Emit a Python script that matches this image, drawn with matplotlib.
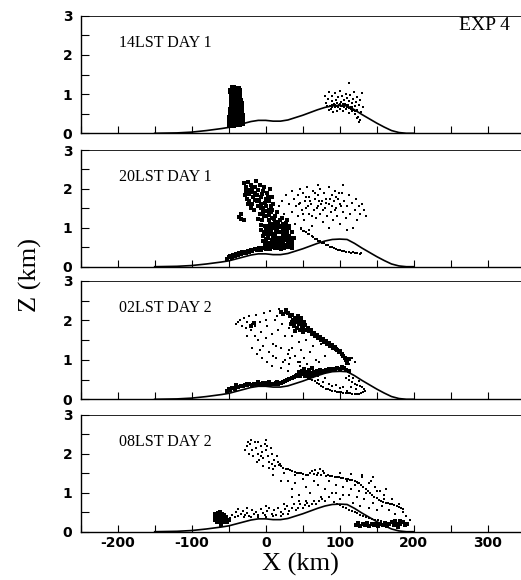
import matplotlib
matplotlib.use("Agg")
import matplotlib.pyplot as plt
from matplotlib.ticker import MultipleLocator

# ---------------- data ----------------
terrain_x = [-150, -120, -100, -80, -60, -50, -40, -30, -20, -10, 0, 10, 20, 30, 40, 50,
             60, 70, 80, 90, 100, 110, 120, 130, 140, 150, 160, 170, 180, 190, 200]
terrain_z = [0.0, 0.01, 0.03, 0.07, 0.12, 0.15, 0.20, 0.25, 0.30, 0.33, 0.33, 0.31, 0.31,
             0.34, 0.40, 0.46, 0.53, 0.60, 0.66, 0.70, 0.71, 0.70, 0.60, 0.48, 0.37, 0.26,
             0.16, 0.07, 0.02, 0.0, 0.0]

panel_titles = ["14LST DAY 1", "20LST DAY 1", "02LST DAY 2", "08LST DAY 2"]
exp_label = "EXP 4"
x_ticklabels = ["-200", "-100", "0", "100", "200", "300"]
x_tickvalues = [-200, -100, 0, 100, 200, 300]

# Panel 1 (14LST day 1)
p1_column = [(-48, 0.20), (-44, 0.21), (-40, 0.23), (-36, 0.25), (-32, 0.27),
             (-48, 0.30), (-44, 0.31), (-40, 0.32), (-36, 0.34), (-32, 0.36),
             (-48, 0.40), (-44, 0.41), (-40, 0.42), (-36, 0.43), (-32, 0.45),
             (-47, 0.50), (-44, 0.51), (-40, 0.52), (-36, 0.52), (-33, 0.55),
             (-47, 0.60), (-44, 0.61), (-40, 0.61), (-36, 0.62), (-33, 0.64),
             (-46, 0.70), (-43, 0.71), (-40, 0.72), (-36, 0.73), (-34, 0.74),
             (-46, 0.80), (-43, 0.81), (-39, 0.82), (-35, 0.83),
             (-45, 0.90), (-42, 0.91), (-39, 0.92), (-36, 0.93),
             (-46, 1.00), (-43, 1.01), (-39, 1.02), (-36, 1.00),
             (-47, 1.09), (-42, 1.11), (-38, 1.13), (-36, 1.07), (-44, 1.16)]
p1_light = [(80, 0.95), (82, 0.78), (84, 0.88), (86, 1.05), (87, 0.70), (88, 0.62), (89, 0.82),
            (90, 0.95), (91, 0.55), (92, 0.74), (93, 1.02), (94, 0.66), (95, 0.85), (96, 0.58),
            (97, 0.78), (98, 0.92), (99, 0.71), (100, 1.08), (101, 0.63), (102, 0.80), (103, 0.94),
            (104, 0.69), (105, 0.56), (106, 0.86), (107, 0.74), (108, 1.00), (109, 0.62), (110, 0.90),
            (111, 0.72), (112, 0.52), (113, 0.83), (114, 0.97), (115, 0.66), (116, 0.78), (117, 0.58),
            (118, 0.88), (119, 1.05), (120, 0.70), (121, 0.48), (122, 0.80), (123, 0.60), (124, 0.92),
            (125, 0.42), (126, 0.72), (127, 0.35), (128, 0.86), (129, 0.55), (130, 1.02), (131, 0.66),
            (126, 0.30), (124, 0.38), (112, 1.28), (86, 0.60), (94, 0.72), (100, 0.74), (106, 0.68),
            (112, 0.64), (118, 0.60), (98, 0.66), (104, 0.76), (90, 0.72), (108, 0.72), (115, 0.62),
            (121, 0.58), (96, 0.70), (102, 0.70), (83, 0.70), (89, 0.68), (110, 0.66), (117, 0.68)]

# Panel 2 (20LST day 1)
p2_dark = [(-30, 2.15), (-27, 2.05), (-24, 2.18), (-22, 1.98), (-20, 2.10), (-18, 1.92), (-15, 2.05),
           (-13, 2.20), (-12, 1.85), (-10, 1.98), (-8, 2.10), (-6, 1.80), (-4, 1.95), (-2, 2.05),
           (0, 1.75), (2, 1.90), (4, 1.70), (6, 2.00), (8, 1.80), (10, 1.62), (-28, 1.85), (-25, 1.75),
           (-22, 1.68), (-18, 1.60), (-15, 1.72), (-11, 1.55), (-7, 1.62), (-3, 1.50), (1, 1.55),
           (5, 1.45), (-16, 1.45), (-20, 1.52), (-36, 1.28), (-34, 1.22), (-33, 1.35), (-30, 1.20),
           (-8, 1.35), (-5, 1.20), (-3, 1.40), (-1, 1.05), (1, 1.30), (3, 0.95), (5, 1.20), (7, 1.40),
           (9, 1.10), (11, 0.85), (13, 1.30), (15, 1.00), (17, 0.75), (19, 1.20), (21, 0.90), (23, 1.10),
           (25, 0.70), (27, 0.95), (29, 1.20), (31, 0.80), (33, 0.60), (35, 0.90), (-6, 0.95), (-4, 0.80),
           (0, 0.70), (2, 0.60), (6, 0.85), (8, 0.68), (10, 1.00), (12, 0.60), (14, 0.55), (16, 1.10),
           (18, 0.65), (20, 0.50), (22, 1.25), (24, 0.58), (26, 1.05), (28, 0.52), (30, 0.65), (32, 1.00),
           (36, 0.55), (38, 0.75), (0, 1.00), (4, 1.05), (8, 1.25), (12, 1.15), (16, 0.88), (20, 0.72),
           (24, 0.85), (28, 0.78), (-2, 0.88), (10, 0.78), (14, 0.95), (18, 1.02), (6, 0.62), (22, 0.62),
           (-26, 1.95), (-23, 1.88), (-19, 2.02), (-17, 1.78), (-14, 1.90), (-9, 1.72), (-5, 1.88),
           (-1, 1.65), (3, 1.80), (7, 1.55), (-12, 1.68), (-24, 1.62), (-6, 1.50), (2, 1.42),
           (-2, 1.30), (4, 1.32), (6, 1.10), (9, 1.45), (11, 1.22), (13, 1.05), (15, 1.40), (17, 1.15),
           (19, 0.90), (21, 1.05), (23, 0.80), (25, 0.95), (27, 0.68), (29, 0.90), (31, 1.05),
           (33, 0.75), (35, 0.65), (3, 0.75), (-3, 0.65), (1, 0.85), (7, 0.95), (11, 0.68),
           (15, 0.70), (19, 0.58), (23, 0.95), (27, 1.12), (-7, 1.08), (-10, 1.22), (13, 0.80),
           (17, 0.55), (21, 0.75), (25, 0.55), (30, 0.56), (9, 0.58), (5, 0.52), (-1, 0.55),
           (-52, 0.20), (-50, 0.24), (-48, 0.27), (-46, 0.23), (-44, 0.30), (-42, 0.27), (-40, 0.33),
           (-38, 0.30), (-36, 0.35), (-34, 0.32), (-32, 0.37), (-30, 0.34), (-28, 0.39), (-26, 0.36),
           (-24, 0.41), (-22, 0.38), (-20, 0.43), (-18, 0.40), (-15, 0.45), (-12, 0.42), (-9, 0.47),
           (-6, 0.44), (-3, 0.49), (0, 0.45), (3, 0.48), (6, 0.45), (9, 0.50), (13, 0.47), (17, 0.49),
           (21, 0.45), (25, 0.47), (30, 0.50), (35, 0.48)]
p2_light = [(18, 1.55), (22, 1.70), (25, 1.35), (28, 1.85), (30, 1.20), (32, 1.60), (35, 1.95), (36, 1.40),
            (38, 1.75), (40, 1.10), (41, 1.55), (43, 1.85), (44, 1.30), (46, 2.00), (47, 1.65), (49, 1.45),
            (50, 1.90), (52, 1.20), (53, 1.70), (55, 1.50), (56, 2.05), (58, 1.35), (59, 1.80), (61, 1.60),
            (62, 1.05), (64, 1.95), (65, 1.45), (67, 1.75), (68, 1.25), (70, 1.85), (71, 1.55), (73, 2.00),
            (74, 1.35), (76, 1.70), (77, 1.15), (79, 1.90), (80, 1.50), (82, 1.75), (83, 1.30), (85, 2.05),
            (86, 1.60), (88, 1.40), (89, 1.85), (91, 1.20), (92, 1.70), (94, 1.95), (95, 1.50), (97, 1.30),
            (98, 1.75), (100, 1.60), (101, 1.10), (103, 1.90), (104, 1.40), (106, 1.70), (108, 1.25),
            (110, 1.55), (112, 1.85), (114, 1.35), (116, 1.65), (118, 1.00), (120, 1.45), (122, 1.75),
            (124, 1.20), (126, 1.55), (128, 1.35), (130, 1.60), (133, 1.45), (135, 1.30), (105, 2.10),
            (70, 2.10), (48, 1.00), (58, 0.95), (85, 1.00), (110, 0.95), (90, 1.55), (75, 1.60), (60, 1.70),
            (95, 1.80), (78, 1.45), (66, 1.90), (45, 1.60), (54, 1.80), (63, 1.30), (72, 1.70), (81, 1.65),
            (87, 1.75), (93, 1.45), (99, 1.90), (102, 1.55), (57, 1.55), (69, 1.50), (51, 1.35)]
p2_line = [(48, 0.97), (50, 0.93), (52, 0.91), (55, 0.89), (57, 0.84), (59, 0.83), (62, 0.78), (64, 0.77),
           (66, 0.72), (69, 0.70), (71, 0.67), (74, 0.65), (76, 0.61), (79, 0.60), (82, 0.56), (84, 0.55),
           (87, 0.51), (89, 0.50), (92, 0.47), (95, 0.46), (98, 0.43), (100, 0.44), (103, 0.41),
           (106, 0.41), (109, 0.38), (112, 0.39), (115, 0.36), (118, 0.37), (121, 0.34), (124, 0.35),
           (127, 0.32), (129, 0.34)]

# Panel 3 (02LST day 2)
p3_scatter = [(-40, 1.90), (-37, 1.95), (-35, 2.00), (-32, 1.85), (-30, 2.05), (-27, 1.80), (-25, 1.95),
              (-22, 2.10), (-20, 1.75), (-18, 1.90), (-15, 1.60), (-13, 2.15), (-10, 1.50), (-8, 1.95),
              (-6, 1.70), (-4, 1.35), (-2, 2.20), (0, 1.55), (2, 1.85), (4, 1.20), (6, 2.25), (8, 1.65),
              (10, 1.40), (12, 2.00), (14, 1.05), (16, 1.75), (18, 2.28), (20, 1.30), (22, 1.90),
              (24, 0.95), (26, 1.60), (28, 2.20), (30, 1.15), (32, 1.80), (-18, 1.30), (-12, 1.15),
              (-5, 1.05), (2, 0.95), (8, 0.85), (14, 1.35), (20, 0.80), (26, 1.00), (30, 0.72), (36, 1.30),
              (40, 1.10), (44, 0.95), (48, 1.25), (52, 1.05), (56, 0.90), (60, 1.20), (64, 1.35),
              (68, 1.00), (72, 0.95), (-25, 1.60), (-8, 1.25), (10, 1.10), (-15, 1.85), (0, 2.00),
              (15, 2.10), (35, 1.60), (45, 1.45), (55, 1.50), (75, 1.40), (80, 1.10), (32, 0.90),
              (33, 1.05), (31, 1.25), (47, 0.85), (46, 0.95), (116, 1.05), (120, 0.95), (112, 0.90)]
p3_band = [(20, 2.22), (24, 2.16), (27, 2.26), (30, 2.20), (33, 2.10), (35, 2.15), (37, 2.00), (39, 2.05),
           (41, 1.95), (43, 2.00), (45, 1.90), (47, 1.95), (49, 1.85), (51, 1.80), (53, 1.88), (55, 1.75),
           (57, 1.80), (59, 1.72), (61, 1.75), (63, 1.65), (65, 1.68), (67, 1.60), (69, 1.62), (71, 1.55),
           (73, 1.58), (75, 1.50), (77, 1.52), (79, 1.45), (81, 1.47), (83, 1.40), (85, 1.42), (87, 1.35),
           (89, 1.37), (91, 1.30), (93, 1.32), (95, 1.27), (97, 1.25), (99, 1.20), (101, 1.22),
           (103, 1.15), (105, 1.10), (107, 1.05), (109, 1.00), (38, 1.85), (42, 1.80), (46, 1.75),
           (36, 1.95), (40, 1.72), (44, 2.10), (48, 2.05), (52, 1.95), (-16, 1.94), (-20, 1.85),
           (110, 0.92), (112, 1.02), (34, 1.90), (50, 1.70)]
p3_ground = [(-52, 0.22), (-50, 0.27), (-48, 0.24), (-45, 0.29), (-42, 0.27), (-40, 0.31), (-37, 0.30),
             (-34, 0.34), (-31, 0.33), (-28, 0.36), (-25, 0.35), (-22, 0.38), (-19, 0.37), (-16, 0.39),
             (-13, 0.38), (-10, 0.40), (-7, 0.39), (-4, 0.41), (-1, 0.39), (2, 0.41), (5, 0.39), (8, 0.40),
             (11, 0.38), (14, 0.41), (17, 0.39), (20, 0.42), (23, 0.44), (26, 0.46), (29, 0.49), (32, 0.51),
             (35, 0.54), (38, 0.56), (41, 0.59), (44, 0.61), (47, 0.63), (-40, 0.36), (-25, 0.40),
             (-10, 0.44), (5, 0.45), (15, 0.44),
             (42, 0.62), (45, 0.68), (47, 0.60), (49, 0.72), (51, 0.65), (53, 0.58), (55, 0.70),
             (57, 0.63), (59, 0.74), (61, 0.66), (63, 0.60), (65, 0.70), (67, 0.64), (69, 0.72),
             (71, 0.67), (73, 0.74), (75, 0.68), (77, 0.72), (79, 0.70), (81, 0.75), (83, 0.72),
             (85, 0.76), (88, 0.74), (91, 0.78), (94, 0.76), (97, 0.80), (100, 0.78), (103, 0.82),
             (106, 0.79), (109, 0.75), (112, 0.72), (52, 0.78), (58, 0.55), (62, 0.80)]
p3_loop = [(60, 0.55), (63, 0.50), (66, 0.46), (69, 0.42), (72, 0.38), (75, 0.34), (78, 0.30), (81, 0.27),
           (84, 0.25), (87, 0.23), (90, 0.21), (93, 0.20), (96, 0.19), (99, 0.18), (102, 0.18),
           (105, 0.17), (108, 0.16), (111, 0.15), (114, 0.15), (117, 0.14), (120, 0.14), (123, 0.13),
           (126, 0.14), (129, 0.15), (132, 0.18), (134, 0.22), (133, 0.27), (130, 0.30), (127, 0.33),
           (124, 0.36), (120, 0.40), (116, 0.45), (112, 0.50), (108, 0.54), (70, 0.50), (78, 0.45),
           (85, 0.40), (95, 0.35), (105, 0.30), (115, 0.30), (122, 0.25), (110, 0.22), (100, 0.28),
           (90, 0.33), (118, 0.55), (126, 0.47), (113, 0.60), (70, 0.60), (80, 0.55), (62, 0.62)]

# Panel 4 (08LST day 2)
p4_upper = [(-28, 2.10), (-25, 2.20), (-23, 2.00), (-21, 2.25), (-19, 2.10), (-17, 1.95), (-15, 2.30),
            (-13, 2.15), (-11, 2.00), (-9, 1.85), (-7, 2.20), (-5, 2.05), (-3, 1.90), (-1, 2.25), (1, 2.10),
            (3, 1.95), (5, 1.80), (7, 2.15), (9, 2.00), (11, 1.85), (13, 1.70), (15, 1.95), (17, 1.80),
            (19, 1.75), (-20, 2.35), (-10, 2.30), (0, 2.35), (-12, 1.80), (-4, 1.70), (4, 1.65),
            (10, 1.60), (-24, 2.30), (-6, 1.95), (2, 2.20), (8, 1.75),
            (18, 1.72), (21, 1.68), (24, 1.65), (27, 1.62), (30, 1.60), (33, 1.58), (36, 1.56),
            (39, 1.54), (42, 1.52), (45, 1.50), (48, 1.50), (51, 1.48), (54, 1.47), (57, 1.47),
            (60, 1.50), (63, 1.55), (65, 1.48), (67, 1.58), (69, 1.45), (71, 1.52), (73, 1.60),
            (75, 1.46), (77, 1.55), (79, 1.50), (81, 1.44), (84, 1.45), (87, 1.43), (90, 1.42),
            (93, 1.41), (96, 1.40), (99, 1.40), (102, 1.38), (105, 1.38), (108, 1.36), (111, 1.35),
            (114, 1.33), (117, 1.32), (120, 1.30), (123, 1.28), (126, 1.25), (129, 1.20), (132, 1.15),
            (135, 1.10), (138, 1.05), (141, 1.00), (144, 0.95), (147, 0.90), (150, 0.86), (153, 0.82),
            (156, 0.80), (159, 0.77), (162, 0.75), (165, 0.73), (168, 0.72), (171, 0.70), (174, 0.68),
            (177, 0.66), (180, 0.63), (183, 0.61), (186, 0.58)]
p4_scatter = [(30, 1.30), (35, 1.10), (40, 1.25), (45, 0.95), (50, 1.35), (55, 1.15), (60, 1.00),
              (65, 1.30), (70, 1.20), (75, 0.90), (80, 1.10), (85, 1.30), (90, 1.00), (95, 1.20),
              (100, 0.85), (105, 1.15), (110, 1.30), (112, 0.95), (115, 1.10), (118, 0.75), (120, 1.20),
              (123, 0.90), (126, 1.05), (128, 0.65), (130, 1.40), (133, 0.85), (136, 1.00), (139, 0.60),
              (142, 1.30), (145, 0.75), (148, 1.15), (151, 0.55), (154, 1.05), (157, 0.65), (160, 0.95),
              (163, 1.10), (166, 0.55), (170, 0.85), (175, 0.45), (180, 0.70), (185, 0.50), (190, 0.40),
              (195, 0.30), (100, 1.50), (115, 1.48), (130, 1.45), (145, 1.40), (95, 1.00), (105, 0.95),
              (125, 1.25), (140, 1.25), (150, 1.05), (160, 0.85), (25, 1.50), (40, 1.45), (35, 0.90),
              (55, 0.80), (20, 1.30), (10, 1.45)]
p4_blob = [(-68, 0.45), (-65, 0.48), (-62, 0.50), (-59, 0.46), (-56, 0.42), (-68, 0.38), (-65, 0.40),
           (-62, 0.42), (-59, 0.38), (-56, 0.35), (-53, 0.38), (-68, 0.30), (-65, 0.32), (-62, 0.34),
           (-59, 0.30), (-56, 0.28), (-53, 0.30), (-66, 0.24), (-63, 0.26), (-60, 0.22), (-57, 0.24),
           (-52, 0.25), (-50, 0.30), (-60, 0.16), (-66, 0.42), (-63, 0.46), (-60, 0.40), (-57, 0.44),
           (-54, 0.33), (-67, 0.34), (-64, 0.36), (-61, 0.29), (-58, 0.32), (-55, 0.26)]
p4_band = [(-48, 0.35), (-45, 0.42), (-42, 0.38), (-40, 0.50), (-37, 0.40), (-34, 0.45), (-31, 0.52),
           (-28, 0.42), (-25, 0.48), (-22, 0.40), (-19, 0.55), (-16, 0.45), (-13, 0.50), (-10, 0.42),
           (-7, 0.58), (-4, 0.48), (-1, 0.43), (2, 0.52), (5, 0.60), (8, 0.46), (11, 0.55), (14, 0.42),
           (17, 0.62), (20, 0.50), (23, 0.45), (26, 0.58), (29, 0.65), (32, 0.52), (35, 0.60),
           (38, 0.70), (41, 0.55), (44, 0.62), (47, 0.72), (50, 0.60), (53, 0.68), (56, 0.75),
           (59, 0.65), (62, 0.70), (65, 0.80), (68, 0.72), (72, 0.78), (76, 0.85), (80, 0.80),
           (85, 0.90), (-30, 0.38), (-20, 0.38), (-10, 0.38), (0, 0.38), (10, 0.40), (20, 0.40),
           (30, 0.45), (-38, 0.58), (-25, 0.60), (0, 0.65), (25, 0.70), (45, 0.80)]
p4_slope = [(92, 0.76), (96, 0.72), (100, 0.68), (104, 0.64), (108, 0.60), (112, 0.57), (116, 0.53),
            (120, 0.50), (124, 0.47), (128, 0.44), (132, 0.41), (136, 0.38), (140, 0.35), (144, 0.33),
            (148, 0.31), (152, 0.29), (156, 0.27), (160, 0.25), (164, 0.23)]
p4_strip = [(122, 0.18), (125, 0.22), (128, 0.15), (131, 0.20), (134, 0.17), (137, 0.22), (140, 0.14),
            (143, 0.19), (146, 0.16), (149, 0.21), (152, 0.15), (155, 0.20), (158, 0.17), (161, 0.23),
            (164, 0.15), (167, 0.20), (170, 0.24), (173, 0.16), (176, 0.21), (179, 0.13), (182, 0.19),
            (185, 0.24), (188, 0.17), (191, 0.20), (175, 0.28), (182, 0.27)]

# (points, marker size) per panel
panels = [
    [(p1_column, 14), (p1_light, 1.5)],
    [(p2_dark, 9), (p2_light, 1.0), (p2_line, 2.0)],
    [(p3_scatter, 2.5), (p3_band, 7), (p3_ground, 5), (p3_loop, 1.5)],
    [(p4_upper, 4.5), (p4_scatter, 2.0), (p4_blob, 9), (p4_band, 2.5), (p4_slope, 1.5),
     (p4_strip, 5)],
]

# ---------------- figure ----------------
W, H = 521, 580
fig = plt.figure(figsize=(W / 100, H / 100), dpi=100)
tops_px = [15.7, 150.0, 281.0, 415.0]
bots_px = [133.3, 266.7, 399.3, 531.7]
left_px = 80.7

serif = "Liberation Serif"
for i in range(4):
    b = 1 - bots_px[i] / H
    t = 1 - tops_px[i] / H
    ax = fig.add_axes([left_px / W, b, 1 - left_px / W, t - b])
    ax.set_xlim(-250, 345)
    ax.set_ylim(0, 3)
    ax.plot(terrain_x, terrain_z, color="black", lw=1.2)
    for pts, s in panels[i]:
        xs = [p[0] for p in pts]
        zs = [p[1] for p in pts]
        ax.scatter(xs, zs, s=s, c="black", marker="s", linewidths=0)
    ax.spines["right"].set_visible(False)
    ax.spines["top"].set_linewidth(0.6)
    ax.spines["left"].set_linewidth(1.0)
    ax.spines["bottom"].set_linewidth(1.0)
    ax.set_xticks(x_tickvalues)
    ax.xaxis.set_minor_locator(MultipleLocator(50))
    ax.set_yticks([0, 1, 2, 3])
    ax.yaxis.set_minor_locator(MultipleLocator(0.5))
    ax.tick_params(axis="both", which="both", direction="in", top=False, right=False)
    ax.tick_params(axis="x", which="both", length=5, width=0.8)
    ax.tick_params(axis="y", which="both", length=5.5, width=0.8, pad=6)
    for lab in ax.get_yticklabels():
        lab.set_fontweight("bold")
        lab.set_fontsize(10)
    if i == 3:
        ax.set_xticklabels(x_ticklabels, fontsize=10, fontweight="bold")
        ax.tick_params(axis="x", pad=3)
        ax.set_xlabel("X (km)", fontsize=19, family=serif, labelpad=2)
    else:
        ax.set_xticklabels([])
    ax.text(0.088, 0.77, panel_titles[i], transform=ax.transAxes, fontsize=11.5,
            family=serif, va="center", ha="left")
    if i == 0:
        ax.text(0.86, 0.92, exp_label, transform=ax.transAxes, fontsize=14,
                family=serif, va="center", ha="left")

fig.text(30 / W, 1 - 275 / H, "Z (km)", rotation=90, fontsize=19, family=serif,
         va="center", ha="center")

fig.savefig("out.png", dpi=100)
